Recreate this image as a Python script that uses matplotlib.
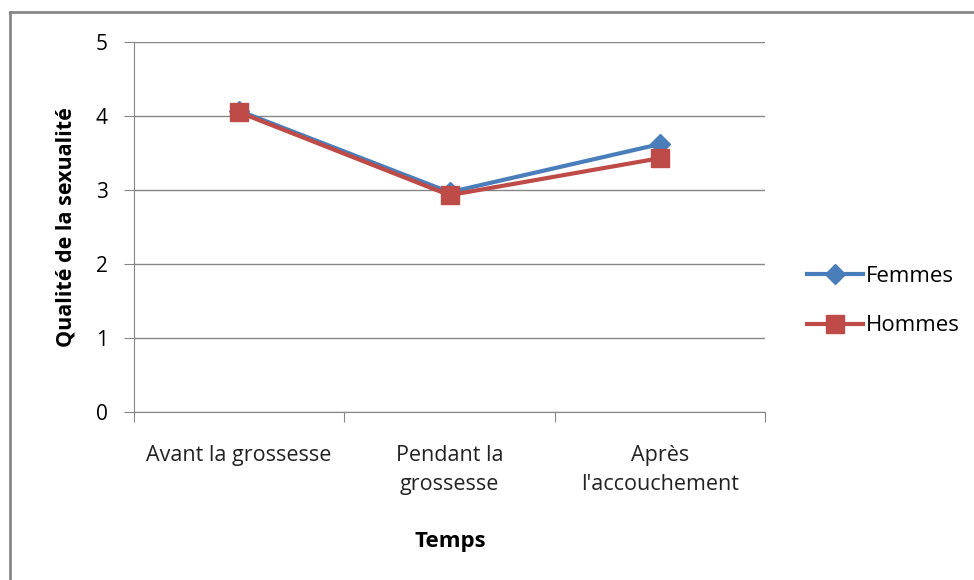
import matplotlib.pyplot as plt
from matplotlib.lines import Line2D

categories = ["Avant la grossesse", "Pendant la\ngrossesse", "Après\nl'accouchement"]
femmes = [4.07, 2.97, 3.62]
hommes = [4.05, 2.93, 3.43]

plt.rcParams['font.family'] = ['Open Sans', 'DejaVu Sans']

fig = plt.figure(figsize=(9.74, 5.8), dpi=100)
ax = fig.add_axes([134 / 974, 1 - 412 / 580, (765 - 134) / 974, (412 - 42) / 580])

x = [0, 1, 2]
ax.plot(x, femmes, color='#4a7ebb', lw=3, marker='D', markersize=10, label='Femmes', zorder=3)
ax.plot(x, hommes, color='#be4b48', lw=3, marker='s', markersize=13, label='Hommes', zorder=4)

ax.set_xlim(-0.5, 2.5)
ax.set_ylim(0, 5)
ax.set_yticks(range(6))
ax.grid(axis='y', color='#868686', lw=1)
ax.set_axisbelow(True)
for s in ['top', 'right']:
    ax.spines[s].set_visible(False)
for s in ['left', 'bottom']:
    ax.spines[s].set_color('#868686')
ax.tick_params(axis='y', length=7, color='#868686', labelsize=15, pad=12)
ax.set_xticks([-0.5, 0.5, 1.5, 2.5])
ax.set_xticklabels([])
ax.tick_params(axis='x', length=7, color='#868686')
for i, c in enumerate(categories):
    ax.text(i, -0.45, c, ha='center', va='top', fontsize=15.5, linespacing=1.5,
            color='#222222', transform=ax.transData)

ax.set_ylabel('Qualité de la sexualité', fontsize=15.5, fontweight='bold', labelpad=14)
fig.text(450 / 974, 1 - 542 / 580, 'Temps', ha='center', va='center', fontsize=16, fontweight='bold')

ax.legend(loc='center left', bbox_to_anchor=(1.053, 0.30), frameon=False, fontsize=16,
          handlelength=2.5, labelspacing=1.3, handletextpad=0.15, borderaxespad=0)

fig.add_artist(Line2D([10 / 974, 1], [1 - 12 / 580, 1 - 12 / 580], color='#878787', lw=2))
fig.add_artist(Line2D([10 / 974, 10 / 974], [0, 1 - 12 / 580], color='#878787', lw=2))

fig.savefig('out.png', dpi=100)
